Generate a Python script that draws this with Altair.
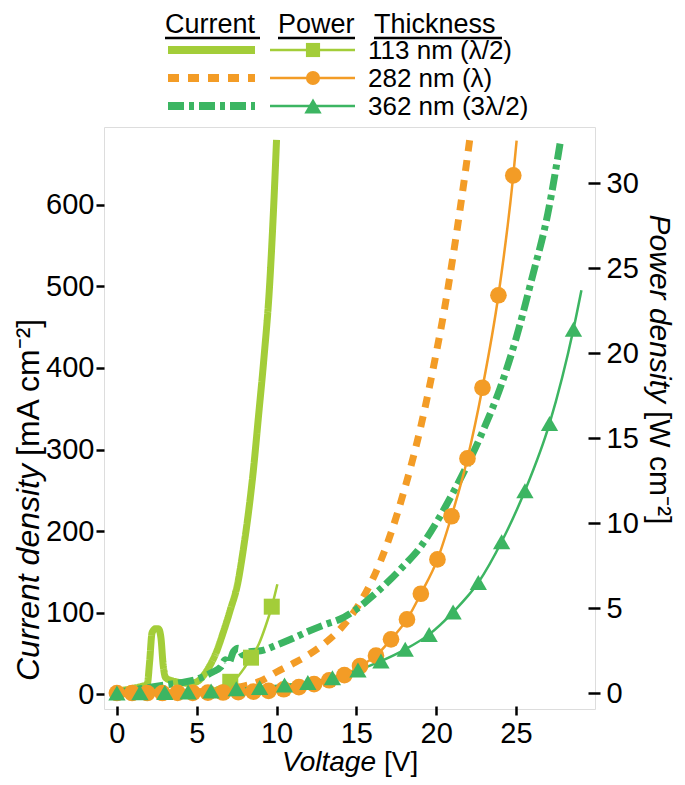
import altair as alt
import pandas as pd

FONT = "Liberation Sans"

# ---------------- data ----------------
series = ["113 nm (λ/2)", "282 nm (λ)", "362 nm (3λ/2)"]
colors = ["#a3cd39", "#f39c26", "#3cb562"]

# current density [mA cm-2] vs voltage [V]
cur_v_113 = [0, 0.5, 1, 1.5, 1.9, 2.05, 2.2, 2.4, 2.6, 2.75, 2.9, 3.05, 3.5, 4, 4.5, 5, 5.4, 5.8,
             6.2, 6.65, 7.1, 7.58, 7.9, 8.21, 8.55, 8.87, 9.2, 9.56, 9.8, 10.0]
cur_j_113 = [4, 5, 7, 9, 12, 40, 75, 80, 80, 70, 35, 20, 16, 14, 13, 15, 22, 34,
             50, 75, 103, 137, 175, 218, 275, 341, 410, 500, 590, 680]

cur_v_282 = [0, 2, 4, 6, 7, 8, 9, 10, 11, 12, 13, 14, 15, 16, 17, 18, 19, 20, 20.5, 21, 21.5, 22.1]
cur_j_282 = [0, 1, 2, 4, 7, 10, 16, 27, 37, 48, 62, 80, 105, 140, 188, 250, 325, 418, 470, 530, 595, 680]

cur_v_362 = [0, 1, 2, 3, 4, 5, 5.5, 6, 6.5, 6.8, 7.0, 7.3, 7.6, 7.9, 8.3, 9, 10, 11, 12, 13, 14,
             15, 16, 17, 18, 19, 20, 21, 22, 23, 24, 25, 26, 27, 27.8]
cur_j_362 = [2, 5, 8, 11, 14, 18, 22, 27, 33, 42, 38, 52, 56, 48, 52, 53, 60, 68, 77, 85, 92,
             104, 120, 138, 158, 180, 210, 245, 283, 326, 375, 436, 510, 590, 680]

# power density [W cm-2] vs voltage [V]
pow_v_113 = [0, 1, 2, 2.3, 2.5, 2.8, 3.2, 4, 5, 5.8, 6.5, 7.1, 7.6, 8.0, 8.4, 8.9, 9.3, 9.7, 10.05]
pow_p_113 = [0, 0.005, 0.03, 0.15, 0.2, 0.12, 0.05, 0.05, 0.07, 0.17, 0.4, 0.66, 1.0, 1.5, 2.08, 2.9, 3.9, 5.08, 6.4]
mk_v_113 = [7.1, 8.4, 9.7]
mk_p_113 = [0.66, 2.08, 5.08]

mk_v_282 = [0, 0.95, 1.9, 2.85, 3.8, 4.75, 5.7, 6.65, 7.6, 8.55, 9.5, 10.45, 11.4, 12.35, 13.3,
            14.25, 15.23, 16.23, 17.17, 18.17, 19.04, 20.08, 20.96, 21.96, 22.9, 23.9, 24.83]
mk_p_282 = [0, 0, 0, 0, 0.01, 0.01, 0.02, 0.03, 0.05, 0.08, 0.13, 0.22, 0.35, 0.52, 0.75,
            1.05, 1.59, 2.2, 3.16, 4.33, 5.84, 7.86, 10.4, 13.8, 17.96, 23.4, 30.45]
pow_v_282 = mk_v_282 + [25.04]
pow_p_282 = mk_p_282 + [32.5]

mk_v_362 = [0, 1.44, 3.0, 4.46, 5.9, 7.48, 8.94, 10.5, 11.96, 13.5, 15.1, 16.54, 18.06, 19.56,
            21.06, 22.64, 24.1, 25.56, 27.1, 28.6]
mk_p_362 = [0, 0.01, 0.03, 0.06, 0.12, 0.25, 0.32, 0.47, 0.62, 0.9, 1.35, 1.88, 2.57, 3.45,
            4.76, 6.5, 8.9, 11.9, 15.85, 21.4]
pow_v_362 = mk_v_362 + [29.1]
pow_p_362 = mk_p_362 + [23.7]

x_ticks = [0, 5, 10, 15, 20, 25]
yl_ticks = [0, 100, 200, 300, 400, 500, 600]
yr_ticks = [0, 5, 10, 15, 20, 25, 30]

legend_headers = ["Current", "Power", "Thickness"]

# ---------------- frames ----------------
def long(vs_list, ys_list, yname):
    rows = []
    for s, vs, ys in zip(series, vs_list, ys_list):
        for v, y in zip(vs, ys):
            rows.append({"series": s, "V": v, yname: y})
    return pd.DataFrame(rows)

cur_df = long([cur_v_113, cur_v_282, cur_v_362], [cur_j_113, cur_j_282, cur_j_362], "J")
pow_df = long([pow_v_113, pow_v_282, pow_v_362], [pow_p_113, pow_p_282, pow_p_362], "P")
mk_df = long([mk_v_113, mk_v_282, mk_v_362], [mk_p_113, mk_p_282, mk_p_362], "P")

dashes = [[1, 0], [11, 9], [16, 5, 5, 5]]
shapes = ["square", "circle", "triangle-up"]

x_scale = alt.Scale(domain=[-0.81, 29.95], nice=False, zero=False)
yl_scale = alt.Scale(domain=[-18.4, 695.7], nice=False, zero=False)
yr_scale = alt.Scale(domain=[-0.94, 33.3], nice=False, zero=False)

common_axis = dict(title=None, domain=False, grid=False, tickColor="black", tickWidth=2.5,
                   labelFontSize=29, labelColor="black", labelFont=FONT)
x_axis = alt.Axis(values=x_ticks, tickSize=9, offset=-3, labelPadding=4, **common_axis)
yl_axis = alt.Axis(values=yl_ticks, orient="left", tickSize=8, labelPadding=2, **common_axis)
yr_axis = alt.Axis(values=yr_ticks, orient="right", tickSize=12, offset=-7, labelPadding=6, **common_axis)

color_enc = alt.Color("series:N", scale=alt.Scale(domain=series, range=colors), legend=None)

current = alt.Chart(cur_df).mark_line(strokeWidth=7, clip=True, interpolate="monotone").encode(
    x=alt.X("V:Q", scale=x_scale, axis=x_axis),
    y=alt.Y("J:Q", scale=yl_scale, axis=yl_axis),
    color=color_enc,
    strokeDash=alt.StrokeDash("series:N", scale=alt.Scale(domain=series, range=dashes), legend=None),
)

power_line = alt.Chart(pow_df).mark_line(strokeWidth=2.5, clip=True, interpolate="monotone").encode(
    x=alt.X("V:Q", scale=x_scale, axis=x_axis),
    y=alt.Y("P:Q", scale=yr_scale, axis=yr_axis),
    color=color_enc,
)
power_pts = alt.Chart(mk_df).mark_point(filled=True, opacity=1, clip=True).encode(
    x=alt.X("V:Q", scale=x_scale, axis=x_axis),
    y=alt.Y("P:Q", scale=yr_scale, axis=yr_axis),
    color=color_enc,
    shape=alt.Shape("series:N", scale=alt.Scale(domain=series, range=shapes), legend=None),
    size=alt.Size("series:N", scale=alt.Scale(domain=series, range=[256, 300, 540]), legend=None),
)
power = alt.layer(power_line, power_pts)

# ---------------- decorations (legend, titles) ----------------
one = pd.DataFrame({"a": [0]})

def txt(s, x, y, size=28, align="left", baseline="alphabetic", style="normal", angle=0):
    return alt.Chart(pd.DataFrame({"t": [s]})).mark_text(
        align=align, baseline=baseline, fontSize=size, fontStyle=style, angle=angle,
        color="black", font=FONT).encode(text="t:N", x=alt.value(x), y=alt.value(y))

def hline(x1, x2, y, color, width, dash=None):
    kw = dict(color=color, strokeWidth=width, strokeCap="butt")
    if dash is not None:
        kw["strokeDash"] = dash
    return alt.Chart(one).mark_rule(**kw).encode(x=alt.value(x1), x2=alt.value(x2), y=alt.value(y))

deco = []
head_x = [61, 174, 270]
head_w = [95, 77, 128]
for h, hx, hw in zip(legend_headers, head_x, head_w):
    deco.append(txt(h, hx, -94, size=27))
    deco.append(hline(hx, hx + hw, -89, "black", 2.5))

row_y = [-77, -49, -21]
for s, c, d, shp, ry in zip(series, colors, dashes, shapes, row_y):
    deco.append(hline(64, 151, ry, c, 8, None if d == [1, 0] else d))
    deco.append(hline(166, 251, ry, c, 2.5))
    deco.append(alt.Chart(one).mark_point(shape=shp, filled=True, opacity=1,
                                          size=(300 if shp == "triangle-up" else 200), color=c)
                .encode(x=alt.value(209), y=alt.value(ry)))
    deco.append(txt(s, 264, ry + 1, size=26, baseline="middle"))

# axis titles
deco.append(txt("Current density", -65, 337, size=32, align="right", style="italic", angle=270))
deco.append(txt("[mA cm⁻²]", -65, 329, size=32, align="left", angle=270))
deco.append(txt("Power density", 546, 276, size=30, align="right", style="italic", angle=90))
deco.append(txt("[W cm⁻²]", 546, 284, size=30, align="left", angle=90))
deco.append(txt("Voltage", 272, 644, size=28, align="right", style="italic"))
deco.append(txt("[V]", 280, 644, size=28, align="left"))

chart = alt.layer(current, power, *deco).resolve_scale(y="independent").properties(
    width=491, height=582,
    autosize=alt.AutoSizeParams(type="none"),
    padding={"left": 96, "top": 119, "right": 82, "bottom": 68},
).configure_view(stroke="black", strokeWidth=3).configure(font=FONT, background="white")

chart.save("out.html", embed_options={"renderer": "svg", "actions": False})
